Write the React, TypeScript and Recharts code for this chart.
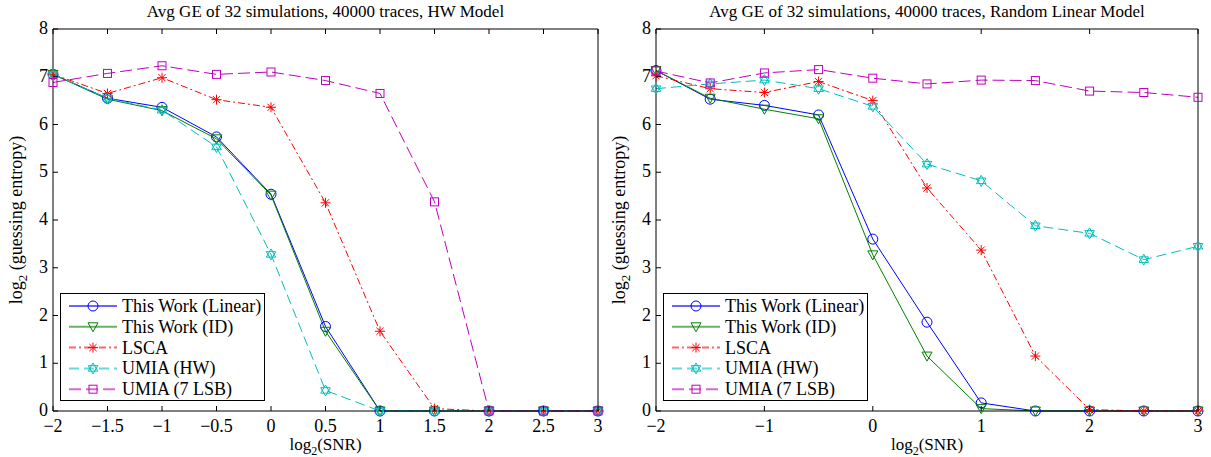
import React from "react";
import { LineChart, Line, XAxis, YAxis } from "recharts";

const snr = [-2, -1.5, -1, -0.5, 0, 0.5, 1, 1.5, 2, 2.5, 3];

// HW model panel
const hwLinear = [7.05, 6.55, 6.36, 5.74, 4.54, 1.77, 0, 0, 0, 0, 0];
const hwId = [7.05, 6.53, 6.29, 5.7, 4.52, 1.67, 0, 0, 0, 0, 0];
const hwLsca = [7.05, 6.65, 6.98, 6.52, 6.36, 4.36, 1.67, 0.05, 0, 0, 0];
const hwUmiaHw = [7.05, 6.55, 6.3, 5.53, 3.28, 0.43, 0, 0, 0, 0, 0];
const hwUmia7 = [6.88, 7.07, 7.23, 7.05, 7.1, 6.92, 6.65, 4.38, 0, 0, 0];

// Random linear model panel
const rlLinear = [7.13, 6.53, 6.4, 6.2, 3.6, 1.86, 0.17, 0, 0, 0, 0];
const rlId = [7.13, 6.55, 6.32, 6.12, 3.27, 1.15, 0.05, 0, 0, 0, 0];
const rlLsca = [7.02, 6.75, 6.67, 6.9, 6.5, 4.67, 3.37, 1.15, 0.03, 0, 0];
const rlUmiaHw = [6.75, 6.85, 6.93, 6.75, 6.38, 5.17, 4.82, 3.88, 3.72, 3.17, 3.45];
const rlUmia7 = [7.12, 6.87, 7.08, 7.15, 6.97, 6.85, 6.93, 6.92, 6.7, 6.67, 6.57];

const yTicks = [0, 1, 2, 3, 4, 5, 6, 7, 8];
const hwXTicks = [-2, -1.5, -1, -0.5, 0, 0.5, 1, 1.5, 2, 2.5, 3];
const rlXTicks = [-2, -1, 0, 1, 2, 3];

const FONT = "'Liberation Serif', 'Times New Roman', serif";

type Kind = "circle" | "tri" | "star" | "hex" | "square";

const series: { key: string; name: string; color: string; dash?: string; marker: Kind }[] = [
  { key: "linear", name: "This Work (Linear)", color: "#0000ff", marker: "circle" },
  { key: "id", name: "This Work (ID)", color: "#008000", marker: "tri" },
  { key: "lsca", name: "LSCA", color: "#ff0000", dash: "7 3 2 3", marker: "star" },
  { key: "umiaHw", name: "UMIA (HW)", color: "#00bfbf", dash: "10 5", marker: "hex" },
  { key: "umia7", name: "UMIA (7 LSB)", color: "#bf00bf", dash: "12 5", marker: "square" },
];

const buildRows = (cols: number[][]) =>
  snr.map((x, i) => ({
    x,
    linear: cols[0][i],
    id: cols[1][i],
    lsca: cols[2][i],
    umiaHw: cols[3][i],
    umia7: cols[4][i],
  }));

const hwData = buildRows([hwLinear, hwId, hwLsca, hwUmiaHw, hwUmia7]);
const rlData = buildRows([rlLinear, rlId, rlLsca, rlUmiaHw, rlUmia7]);

function Marker({ kind, cx, cy, color }: { kind: Kind; cx: number; cy: number; color: string }) {
  const p = { fill: "none", stroke: color, strokeWidth: 1 };
  if (kind === "circle") return <circle cx={cx} cy={cy} r={5} {...p} />;
  if (kind === "tri")
    return <polygon points={`${cx},${cy + 5} ${cx - 5},${cy - 4} ${cx + 5},${cy - 4}`} {...p} />;
  if (kind === "square") return <rect x={cx - 4} y={cy - 4} width={8} height={8} {...p} />;
  if (kind === "hex") {
    const r = 5.5;
    const a = r * 0.866;
    return (
      <g {...p}>
        <polygon points={`${cx},${cy - r} ${cx - a},${cy + r / 2} ${cx + a},${cy + r / 2}`} />
        <polygon points={`${cx},${cy + r} ${cx - a},${cy - r / 2} ${cx + a},${cy - r / 2}`} />
      </g>
    );
  }
  const s = 5;
  const d = 3.6;
  return (
    <g stroke={color} strokeWidth={1}>
      <line x1={cx - s} y1={cy} x2={cx + s} y2={cy} />
      <line x1={cx} y1={cy - s} x2={cx} y2={cy + s} />
      <line x1={cx - d} y1={cy - d} x2={cx + d} y2={cy + d} />
      <line x1={cx - d} y1={cy + d} x2={cx + d} y2={cy - d} />
    </g>
  );
}

const fmt = (v: number) => (v < 0 ? "\u2212" + String(-v) : String(v));

const BottomTick = (props: any) => {
  const { x, y, payload } = props;
  return (
    <g>
      <line x1={x} y1={y} x2={x} y2={y - 5} stroke="#000" />
      <text x={x} y={y + 21} textAnchor="middle" fontSize={18} fontFamily={FONT} fill="#000">
        {fmt(payload.value)}
      </text>
    </g>
  );
};

const TopTick = (props: any) => {
  const { x, y } = props;
  return <line x1={x} y1={y} x2={x} y2={y + 5} stroke="#000" />;
};

const LeftTick = (props: any) => {
  const { x, y, payload } = props;
  return (
    <g>
      <line x1={x} y1={y} x2={x + 5} y2={y} stroke="#000" />
      <text x={x - 5} y={y + 5} textAnchor="end" fontSize={18} fontFamily={FONT} fill="#000">
        {payload.value}
      </text>
    </g>
  );
};

const RightTick = (props: any) => {
  const { x, y } = props;
  return <line x1={x} y1={y} x2={x - 5} y2={y} stroke="#000" />;
};

function LegendBox() {
  return (
    <svg width={205} height={108} style={{ display: "block" }}>
      <rect x={0.5} y={0.5} width={204} height={107} fill="#fff" stroke="#000" />
      {series.map((s, i) => {
        const y = 13 + i * 20.8;
        return (
          <g key={s.key}>
            <line x1={9} y1={y} x2={57} y2={y} stroke={s.color} strokeWidth={2} strokeOpacity={0.6} strokeDasharray={s.dash} />
            <Marker kind={s.marker} cx={33} cy={y} color={s.color} />
            <text x={62} y={y + 6} fontSize={18} fontFamily={FONT} fill="#000">
              {s.name}
            </text>
          </g>
        );
      })}
    </svg>
  );
}

function Panel({
  data,
  xTicks,
  title,
  left,
  width,
  plot,
}: {
  data: any[];
  xTicks: number[];
  title: string;
  left: number;
  width: number;
  plot: { top: number; right: number; bottom: number; left: number };
}) {
  const plotCenter = plot.left + (width - plot.left - plot.right) / 2;
  // each axis below reserves 1px, so the margins are one smaller than the plot offsets
  const margin = { top: plot.top - 1, right: plot.right - 1, bottom: plot.bottom - 1, left: plot.left - 1 };
  return (
    <div style={{ position: "absolute", left, top: 0, width, height: 457 }}>
      <div
        style={{
          position: "absolute",
          left: 0,
          width: plotCenter * 2,
          top: 0,
          textAlign: "center",
          fontFamily: FONT,
          fontSize: 17,
          lineHeight: "24px",
          whiteSpace: "nowrap",
        }}
      >
        {title}
      </div>
      <LineChart width={width} height={457} data={data} margin={margin}>
        <XAxis
          dataKey="x"
          type="number"
          domain={[-2, 3]}
          ticks={xTicks}
          height={1}
          tickSize={0}
          tickMargin={0}
          tickLine={false}
          axisLine={{ stroke: "#000" }}
          tick={<BottomTick />}
          interval={0}
          label={{
            content: () => (
              <text x={plotCenter} y={450} textAnchor="middle" fontSize={17} fontFamily={FONT} fill="#000">
                log<tspan fontSize={12} dy={5}>2</tspan>
                <tspan dy={-5}>(SNR)</tspan>
              </text>
            ),
          }}
        />
        <XAxis
          xAxisId="top"
          orientation="top"
          dataKey="x"
          type="number"
          domain={[-2, 3]}
          ticks={xTicks}
          height={1}
          tickSize={0}
          tickMargin={0}
          tickLine={false}
          axisLine={{ stroke: "#000" }}
          tick={<TopTick />}
          interval={0}
        />
        <YAxis
          type="number"
          domain={[0, 8]}
          ticks={yTicks}
          width={1}
          tickSize={0}
          tickMargin={0}
          tickLine={false}
          axisLine={{ stroke: "#000" }}
          tick={<LeftTick />}
          interval={0}
          label={{
            content: () => (
              <text
                transform={`translate(${plot.left - 31},220) rotate(-90)`}
                textAnchor="middle"
                fontSize={18}
                fontFamily={FONT}
                fill="#000"
              >
                log<tspan fontSize={13} dy={5}>2</tspan>
                <tspan dy={-5}> (guessing entropy)</tspan>
              </text>
            ),
          }}
        />
        <YAxis
          yAxisId="right"
          orientation="right"
          type="number"
          domain={[0, 8]}
          ticks={yTicks}
          width={1}
          tickSize={0}
          tickMargin={0}
          tickLine={false}
          axisLine={{ stroke: "#000" }}
          tick={<RightTick />}
          interval={0}
        />
        {series.map((s) => (
          <Line
            key={s.key}
            dataKey={s.key}
            name={s.name}
            stroke={s.color}
            strokeWidth={1}
            strokeDasharray={s.dash}
            isAnimationActive={false}
            dot={(p: any) => <Marker key={`${s.key}-${p.index}`} kind={s.marker} cx={p.cx} cy={p.cy} color={s.color} />}
            activeDot={false}
          />
        ))}
      </LineChart>
      <div style={{ position: "absolute", left: plot.left + 7, top: 293 }}>
        <LegendBox />
      </div>
    </div>
  );
}

export default function App() {
  return (
    <div style={{ position: "absolute", left: 0, top: 0, width: 1211, height: 457, background: "#fff" }}>
      <Panel
        data={hwData}
        xTicks={hwXTicks}
        title="Avg GE of 32 simulations, 40000 traces, HW Model"
        left={0}
        width={605}
        plot={{ top: 29, right: 7, bottom: 46, left: 53 }}
      />
      <Panel
        data={rlData}
        xTicks={rlXTicks}
        title="Avg GE of 32 simulations, 40000 traces, Random Linear Model"
        left={605}
        width={606}
        plot={{ top: 29, right: 13, bottom: 46, left: 51 }}
      />
    </div>
  );
}
